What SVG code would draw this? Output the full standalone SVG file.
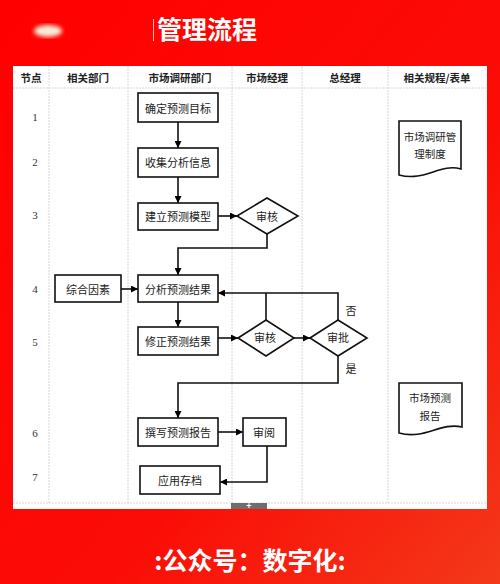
<svg xmlns="http://www.w3.org/2000/svg" width="500" height="584" viewBox="0 0 500 584">
<defs>
<linearGradient id="bg" x1="0" y1="0" x2="1" y2="1">
<stop offset="0" stop-color="#ff0000"/>
<stop offset="0.6" stop-color="#fb0c06"/>
<stop offset="1" stop-color="#f3391a"/>
</linearGradient>
<filter id="blur"><feGaussianBlur stdDeviation="2"/></filter>
<marker id="arr" viewBox="0 0 10 10" refX="10" refY="5" markerWidth="7" markerHeight="7" orient="auto" markerUnits="userSpaceOnUse">
<path d="M0,0 L10,5 L0,10 z" fill="#000"/>
</marker>
<style>
.box{fill:#fff;stroke:#111;stroke-width:1.6}
.t{font-family:"Noto Sans CJK SC","Noto Sans",sans-serif;font-size:11px;fill:#222;text-anchor:middle;dominant-baseline:central}
.d{font-family:"Noto Sans CJK SC","Noto Sans",sans-serif;font-size:10.5px;fill:#222;text-anchor:middle;dominant-baseline:central}
.h{font-family:"Noto Sans CJK SC","Noto Sans",sans-serif;font-size:10.5px;font-weight:bold;fill:#222;text-anchor:middle;dominant-baseline:central}
.n{font-family:"Liberation Serif",serif;font-size:11px;fill:#333;text-anchor:middle;dominant-baseline:central}
.grid{stroke:#d6d6d6;stroke-width:1;stroke-dasharray:2 1}
.c{fill:none;stroke:#111;stroke-width:1.6}
.ca{fill:none;stroke:#111;stroke-width:1.6;marker-end:url(#arr)}
</style>
</defs>
<rect x="0" y="0" width="500" height="584" fill="url(#bg)"/>
<ellipse cx="48" cy="31" rx="14" ry="6" fill="#f6ecd8" filter="url(#blur)"/>
<line x1="153.5" y1="19" x2="153.5" y2="41" stroke="#f2c0b0" stroke-width="1"/>
<text x="157" y="39" font-family="Noto Sans CJK SC,sans-serif" font-size="25" font-weight="bold" fill="#fff">管理流程</text>

<rect x="13" y="66" width="474" height="443" fill="#fff"/>
<g id="grid">
<line class="grid" x1="13" y1="88" x2="487" y2="88"/>
<line class="grid" x1="49" y1="66" x2="49" y2="503"/>
<line class="grid" x1="128" y1="66" x2="128" y2="503"/>
<line class="grid" x1="232" y1="66" x2="232" y2="503"/>
<line class="grid" x1="302" y1="66" x2="302" y2="503"/>
<line class="grid" x1="388" y1="66" x2="388" y2="503"/>
<line class="grid" x1="13" y1="503" x2="487" y2="503"/>
</g>
<g id="header">
<text class="h" x="31" y="77">节点</text>
<text class="h" x="88" y="77">相关部门</text>
<text class="h" x="180" y="77">市场调研部门</text>
<text class="h" x="267" y="77">市场经理</text>
<text class="h" x="345" y="77">总经理</text>
<text class="h" x="437" y="77">相关规程/表单</text>
</g>
<g id="nums">
<text class="n" x="35" y="117">1</text>
<text class="n" x="35" y="162">2</text>
<text class="n" x="35" y="215">3</text>
<text class="n" x="35" y="289">4</text>
<text class="n" x="35" y="342">5</text>
<text class="n" x="35" y="433">6</text>
<text class="n" x="35" y="477">7</text>
</g>

<g id="connectors">
<line class="ca" x1="178" y1="122" x2="178" y2="148"/>
<line class="ca" x1="178" y1="177" x2="178" y2="203"/>
<line class="ca" x1="218" y1="216" x2="237" y2="216"/>
<polyline class="ca" points="267,234 267,248 178,248 178,275"/>
<line class="ca" x1="121" y1="289" x2="138" y2="289"/>
<line class="ca" x1="178" y1="302" x2="178" y2="327"/>
<line class="ca" x1="218" y1="338" x2="238" y2="338"/>
<line class="ca" x1="294" y1="338" x2="310" y2="338"/>
<line class="c" x1="266" y1="320" x2="266" y2="293"/>
<polyline class="ca" points="338,320 338,293 218,293"/>
<polyline class="ca" points="338,356 338,383 178,383 178,418"/>
<line class="ca" x1="218" y1="432" x2="243" y2="432"/>
<polyline class="ca" points="267,446 267,482 220,482"/>
<text class="t" x="351" y="310">否</text>
<text class="t" x="351" y="368">是</text>
</g>

<g id="n1"><rect class="box" x="138" y="93" width="80" height="29"/><text class="t" x="178" y="108">确定预测目标</text></g>
<g id="n2"><rect class="box" x="138" y="148" width="80" height="29"/><text class="t" x="178" y="162">收集分析信息</text></g>
<g id="n3"><rect class="box" x="138" y="203" width="80" height="27"/><text class="t" x="178" y="216">建立预测模型</text></g>
<g id="d1"><polygon class="box" points="237,216 267,198 298,216 267,234"/><text class="t" x="267" y="216">审核</text></g>
<g id="n4a"><rect class="box" x="55" y="275" width="66" height="27"/><text class="t" x="88" y="289">综合因素</text></g>
<g id="n4"><rect class="box" x="138" y="275" width="80" height="27"/><text class="t" x="178" y="289">分析预测结果</text></g>
<g id="n5"><rect class="box" x="138" y="327" width="80" height="28"/><text class="t" x="178" y="341">修正预测结果</text></g>
<g id="d2"><polygon class="box" points="238,338 266,320 294,338 266,356"/><text class="t" x="265" y="337">审核</text></g>
<g id="d3"><polygon class="box" points="310,338 338,320 367,338 338,356"/><text class="t" x="338" y="337">审批</text></g>
<g id="n6"><rect class="box" x="138" y="418" width="80" height="28"/><text class="t" x="178" y="432">撰写预测报告</text></g>
<g id="n6b"><rect class="box" x="243" y="418" width="43" height="28"/><text class="t" x="264" y="432">审阅</text></g>
<g id="n7"><rect class="box" x="140" y="466" width="80" height="28"/><text class="t" x="180" y="480">应用存档</text></g>
<g id="doc1"><path class="box" d="M399,121 H461 V169 C440,163 425,182 399,175 Z"/><text class="d" x="430" y="136">市场调研管</text><text class="d" x="430" y="153">理制度</text></g>
<g id="doc2"><path class="box" d="M399,383 H462 V427 C440,422 425,440 399,433 Z"/><text class="d" x="430" y="397">市场预测</text><text class="d" x="430" y="415">报告</text></g>

<rect x="231" y="503" width="36" height="6" fill="#6e6e6e"/>
<text x="249" y="509" font-family="Liberation Sans,sans-serif" font-size="9" font-weight="bold" fill="#fff" text-anchor="middle">+</text>

<text x="250" y="570" font-family="Noto Sans CJK SC,sans-serif" font-size="25" font-weight="bold" fill="#fff" text-anchor="middle">:公众号：数字化:</text>
</svg>
